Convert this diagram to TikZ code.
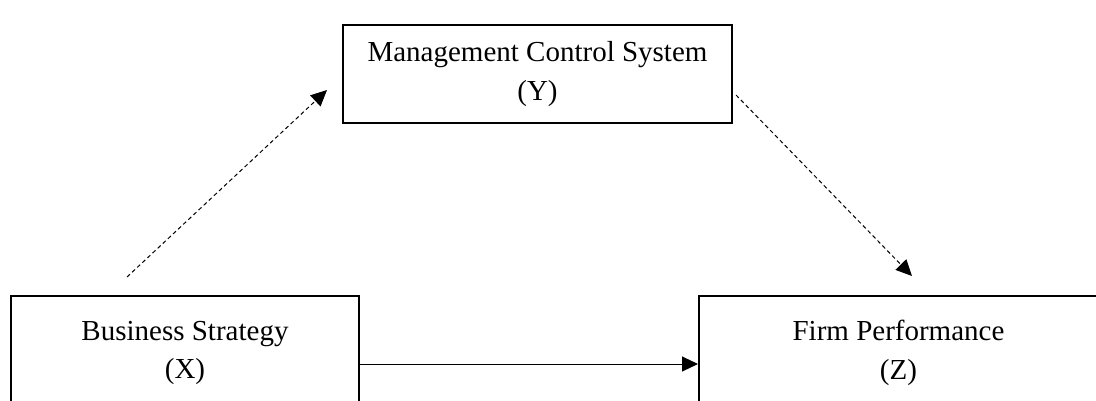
\documentclass[tikz,border=0pt]{standalone}
\usepackage{fontspec}
\setmainfont{Liberation Serif}
\usetikzlibrary{arrows.meta}
\begin{document}
\begin{tikzpicture}[x=1pt,y=-1pt,
  box/.style={draw=black,line width=2pt,rectangle,inner sep=0pt,align=center,
    font=\fontsize{29}{38.5}\selectfont},
  conn/.style={line width=1pt,-{Triangle[length=16pt,width=15pt]}},
  dashconn/.style={conn,dash pattern=on 4pt off 3pt}]
\useasboundingbox (0,0) rectangle (1096,400);
\clip (0,0) rectangle (1096,400);
\fill[white] (0,0) rectangle (1096,400);
\node[box,minimum width=389pt,minimum height=98pt] (Y) at (537.5,74) {Management Control System\\(Y)};
\node[box,minimum width=348pt,minimum height=114pt] (X) at (185,353) {Business Strategy\\(X)};
\node[box,minimum width=399pt,minimum height=114pt] (Z) at (898.5,353) {Firm Performance\\(Z)};
\coordinate (a1) at (127,277);
\coordinate (a2) at (327,90);
\coordinate (b1) at (736,95);
\coordinate (b2) at (912,276);
\draw[dashconn] (a1) -- (a2);
\draw[dashconn] (b1) -- (b2);
\draw[conn] ([yshift=-11pt]X.east) -- ([yshift=-11pt]Z.west);
\end{tikzpicture}
\end{document}
